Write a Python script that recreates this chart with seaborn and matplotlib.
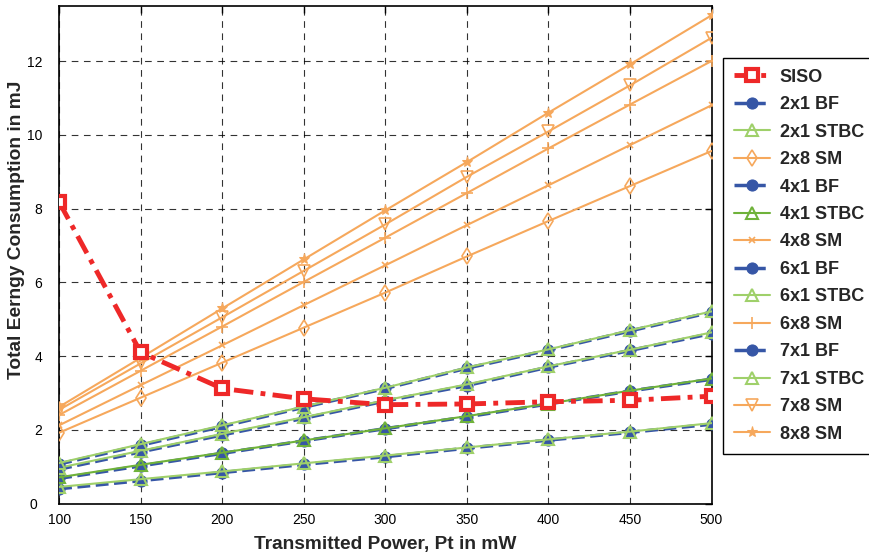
import matplotlib
matplotlib.use("Agg")
import matplotlib.pyplot as plt
import matplotlib.transforms as mtransforms
import seaborn as sns
import pandas as pd

power = [100, 150, 200, 250, 300, 350, 400, 450, 500]

siso = [8.18, 4.10, 3.12, 2.84, 2.68, 2.70, 2.76, 2.80, 2.91]

bf_2x1 = [0.40, 0.62, 0.84, 1.06, 1.27, 1.50, 1.72, 1.93, 2.15]
stbc_2x1 = [0.45, 0.66, 0.87, 1.09, 1.30, 1.52, 1.74, 1.95, 2.18]
sm_2x8 = [1.92, 2.87, 3.82, 4.77, 5.72, 6.70, 7.66, 8.61, 9.56]

bf_4x1 = [0.68, 1.02, 1.36, 1.70, 2.03, 2.35, 2.70, 3.05, 3.37]
stbc_4x1 = [0.71, 1.05, 1.38, 1.71, 2.04, 2.37, 2.71, 3.06, 3.39]
sm_4x8 = [2.12, 3.21, 4.29, 5.38, 6.46, 7.55, 8.63, 9.72, 10.80]

bf_6x1 = [0.93, 1.40, 1.86, 2.31, 2.78, 3.20, 3.70, 4.15, 4.61]
stbc_6x1 = [0.97, 1.43, 1.89, 2.34, 2.80, 3.23, 3.72, 4.17, 4.64]
sm_6x8 = [2.40, 3.60, 4.80, 6.01, 7.21, 8.42, 9.63, 10.82, 12.00]

bf_7x1 = [1.07, 1.58, 2.09, 2.61, 3.12, 3.67, 4.16, 4.68, 5.19]
stbc_7x1 = [1.10, 1.61, 2.12, 2.63, 3.14, 3.69, 4.18, 4.70, 5.21]
sm_7x8 = [2.54, 3.80, 5.05, 6.31, 7.57, 8.86, 10.09, 11.34, 12.63]
sm_8x8 = [2.62, 3.95, 5.29, 6.62, 7.95, 9.26, 10.60, 11.91, 13.24]

x_ticks = [100, 150, 200, 250, 300, 350, 400, 450, 500]
y_ticks = [0, 2, 4, 6, 8, 10, 12]

RED = "#ee2828"
BLUE = "#3656a6"
LGREEN = "#9fd06a"
DGREEN = "#6fb23a"
ORANGE = "#f6a85c"

series = [
    ("SISO", siso, dict(color=RED, linestyle=(0, (4, 1.5, 1, 1.5)), linewidth=3.5, marker="s",
                        markersize=9, markerfacecolor="white", markeredgecolor=RED,
                        markeredgewidth=3)),
    ("2x1 BF", bf_2x1, dict(color=BLUE, linestyle="--", linewidth=2.5, marker="o",
                            markersize=8, markerfacecolor=BLUE, markeredgecolor=BLUE)),
    ("2x1 STBC", stbc_2x1, dict(color=LGREEN, linestyle="-", linewidth=1.5, marker="^",
                                markersize=8, markerfacecolor="none", markeredgecolor=LGREEN,
                                markeredgewidth=1.5)),
    ("2x8 SM", sm_2x8, dict(color=ORANGE, linestyle="-", linewidth=1.5, marker="d",
                            markersize=8, markerfacecolor="none", markeredgecolor=ORANGE,
                            markeredgewidth=1.2)),
    ("4x1 BF", bf_4x1, dict(color=BLUE, linestyle="--", linewidth=2.5, marker="o",
                            markersize=8, markerfacecolor=BLUE, markeredgecolor=BLUE)),
    ("4x1 STBC", stbc_4x1, dict(color=DGREEN, linestyle="-", linewidth=1.5, marker="^",
                                markersize=8, markerfacecolor="none", markeredgecolor=DGREEN,
                                markeredgewidth=1.5)),
    ("4x8 SM", sm_4x8, dict(color=ORANGE, linestyle="-", linewidth=1.5, marker="x",
                            markersize=4, markeredgecolor=ORANGE, markeredgewidth=1.2)),
    ("6x1 BF", bf_6x1, dict(color=BLUE, linestyle="--", linewidth=2.5, marker="o",
                            markersize=8, markerfacecolor=BLUE, markeredgecolor=BLUE)),
    ("6x1 STBC", stbc_6x1, dict(color=LGREEN, linestyle="-", linewidth=1.5, marker="^",
                                markersize=8, markerfacecolor="none", markeredgecolor=LGREEN,
                                markeredgewidth=1.5)),
    ("6x8 SM", sm_6x8, dict(color=ORANGE, linestyle="-", linewidth=1.5, marker="+",
                            markersize=8, markeredgecolor=ORANGE, markeredgewidth=1.2)),
    ("7x1 BF", bf_7x1, dict(color=BLUE, linestyle="--", linewidth=2.5, marker="o",
                            markersize=8, markerfacecolor=BLUE, markeredgecolor=BLUE)),
    ("7x1 STBC", stbc_7x1, dict(color=LGREEN, linestyle="-", linewidth=1.5, marker="^",
                                markersize=8, markerfacecolor="none", markeredgecolor=LGREEN,
                                markeredgewidth=1.5)),
    ("7x8 SM", sm_7x8, dict(color=ORANGE, linestyle="-", linewidth=1.5, marker="v",
                            markersize=8, markerfacecolor="none", markeredgecolor=ORANGE,
                            markeredgewidth=1.2)),
    ("8x8 SM", sm_8x8, dict(color=ORANGE, linestyle="-", linewidth=1.5, marker="*",
                            markersize=8, markerfacecolor=ORANGE, markeredgecolor=ORANGE)),
]

sns.set_style("white")
plt.rcParams["font.family"] = ["Liberation Sans", "DejaVu Sans"]

fig = plt.figure(figsize=(8.69, 5.56), dpi=100)
ax = fig.add_axes([0.068, 0.0944, 0.7508, 0.8953])

for name, vals, style in series:
    df = pd.DataFrame({"Pt": power, "E": vals})
    z = 5 if name == "SISO" else 3
    sns.lineplot(data=df, x="Pt", y="E", ax=ax, label=name, zorder=z, **style)

ax.set_xlim(100, 500)
ax.set_ylim(0, 13.5)
ax.set_xticks(x_ticks)
ax.set_yticks(y_ticks)
ax.tick_params(direction="in", length=5, width=1, labelsize=10, colors="black",
               top=True, right=True)
ax.tick_params(axis="y", pad=12)
ax.tick_params(axis="x", pad=7)
ax.grid(True, color="black", linestyle=(0, (6, 5)), linewidth=0.8, alpha=0.8)
for s in ax.spines.values():
    s.set_color("black")
    s.set_linewidth(1.2)

# MATLAB-like placement of the "0" label
fig.canvas.draw()
zero_lbl = ax.get_yticklabels()[0]
zero_lbl.set_transform(zero_lbl.get_transform() +
                       mtransforms.ScaledTranslation(-4 / 72, 0, fig.dpi_scale_trans))

ax.set_xlabel("Transmitted Power, Pt in mW", fontsize=13.8, fontweight="bold", labelpad=6)
ax.set_ylabel("Total Eerngy Consumption in mJ", fontsize=13.8, fontweight="bold")
ax.yaxis.set_label_coords(-0.053, 0.55)

ax.get_legend().remove()
handles, labels = ax.get_legend_handles_labels()
leg = fig.legend(handles, labels, loc="upper left", bbox_to_anchor=(0.832, 0.896),
                 frameon=True, fancybox=False, framealpha=1, edgecolor="black",
                 prop={"weight": "bold", "size": 13}, handlelength=2.0,
                 labelspacing=0.58, borderpad=0.6, handletextpad=0.55, borderaxespad=0)
leg.get_frame().set_linewidth(1.0)

fig.savefig("out.png", dpi=100)
